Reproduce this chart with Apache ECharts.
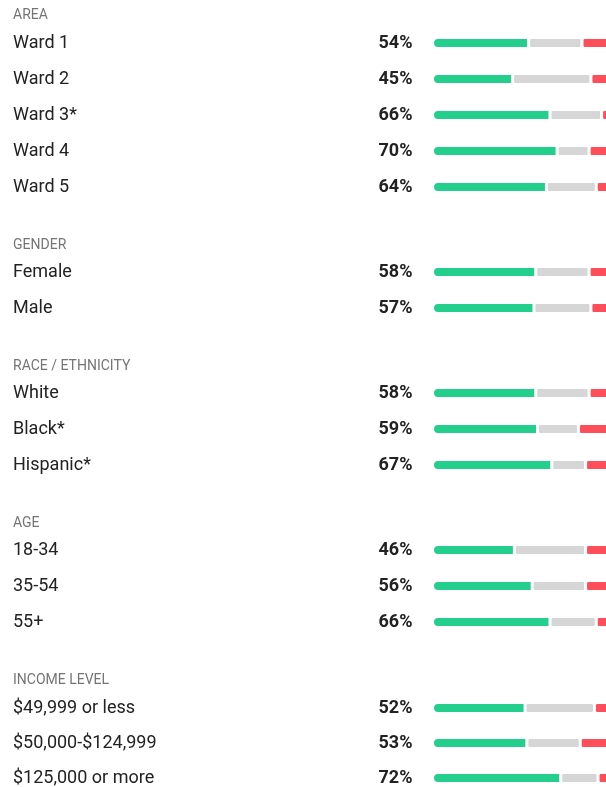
<!DOCTYPE html>
<html>
<head>
  <meta charset="UTF-8">
  <title>Survey by group</title>
  <script src="https://cdn.jsdelivr.net/npm/echarts@6/dist/echarts.min.js"></script>
  <style>
    html, body { margin: 0; padding: 0; background: #fff; }
    #chart { width: 606px; height: 787px; }
  </style>
</head>
<body>
<div id="chart"></div>
<script type="text/javascript">
  // groups (headers) and their rows
  var groupNames = ['AREA', 'GENDER', 'RACE / ETHNICITY', 'AGE', 'INCOME LEVEL'];
  var groupRows = [
    ['Ward 1', 'Ward 2', 'Ward 3*', 'Ward 4', 'Ward 5'],
    ['Female', 'Male'],
    ['White', 'Black*', 'Hispanic*'],
    ['18-34', '35-54', '55+'],
    ['$49,999 or less', '$50,000-$124,999', '$125,000 or more']
  ];
  // green share (the printed %), grey share, red share
  var greenVals = [
    [54, 45, 66, 70, 64],
    [58, 57],
    [58, 59, 67],
    [46, 56, 66],
    [52, 53, 72]
  ];
  var greyVals = [
    [30, 44, 29, 18, 28],
    [30, 32],
    [30, 23, 19],
    [40, 30, 26],
    [39, 30, 21]
  ];
  var redVals = [
    [16, 11, 5, 12, 8],
    [12, 11],
    [12, 18, 14],
    [14, 14, 8],
    [9, 17, 7]
  ];

  var chart = echarts.init(document.getElementById('chart'));

  // vertical layout: header centre, first row centre
  var headerY = [14, 244, 365, 522, 679];
  var firstRowY = [43, 272, 393, 550, 708];
  var rowStep = 36;
  var barLeft = 432.5;
  var fullW = 178;            // width of a 100% bar, runs past the right edge
  var visW = 606 - barLeft;   // grid cannot leave the canvas
  var xMax = 100 * visW / fullW;

  var grids = [], xAxes = [], yAxes = [], series = [], titles = [];
  groupNames.forEach(function (name, i) {
    var n = groupRows[i].length;
    // category points sit on the grid edges (boundaryGap false)
    grids.push({ left: barLeft, top: firstRowY[i], width: visW, height: (n - 1) * rowStep });
    xAxes.push({ gridIndex: i, type: 'value', min: 0, max: xMax, show: false });
    yAxes.push({
      gridIndex: i, type: 'category', inverse: true, boundaryGap: false, data: groupRows[i],
      axisLine: { show: false }, axisTick: { show: false }, splitLine: { show: false },
      axisLabel: {
        align: 'left', margin: barLeft - 13, padding: [3, 0, 0, 0],
        color: '#222', fontSize: 18, fontFamily: 'Roboto'
      }
    });
    titles.push({
      text: name, left: 13, top: headerY[i] - 6, padding: 0,
      textStyle: { fontFamily: 'Roboto', fontSize: 14, fontWeight: 'normal', color: '#757575' }
    });
    var common = {
      type: 'bar', stack: 'g' + i, xAxisIndex: i, yAxisIndex: i,
      barWidth: 11, silent: true, clip: false
    };
    series.push(Object.assign({}, common, {
      name: 'green', data: greenVals[i],
      itemStyle: { color: '#24CF8E', borderColor: '#fff', borderWidth: 1.5, borderRadius: [6, 0, 0, 6] },
      label: {
        show: true, position: 'left', distance: 20, formatter: '{c}%', padding: [3, 0, 0, 0],
        color: '#222', fontSize: 18, fontWeight: 'bold', fontFamily: 'Roboto'
      }
    }));
    series.push(Object.assign({}, common, {
      name: 'grey', data: greyVals[i],
      itemStyle: { color: '#D6D6D6', borderColor: '#fff', borderWidth: 1.5, borderRadius: 2 }
    }));
    series.push(Object.assign({}, common, {
      name: 'red', data: redVals[i],
      itemStyle: { color: '#FF4D5A', borderColor: '#fff', borderWidth: 1.5, borderRadius: 2 }
    }));
  });

  chart.setOption({
    animation: false,
    title: titles,
    grid: grids,
    xAxis: xAxes,
    yAxis: yAxes,
    series: series
  });
</script>
</body>
</html>
